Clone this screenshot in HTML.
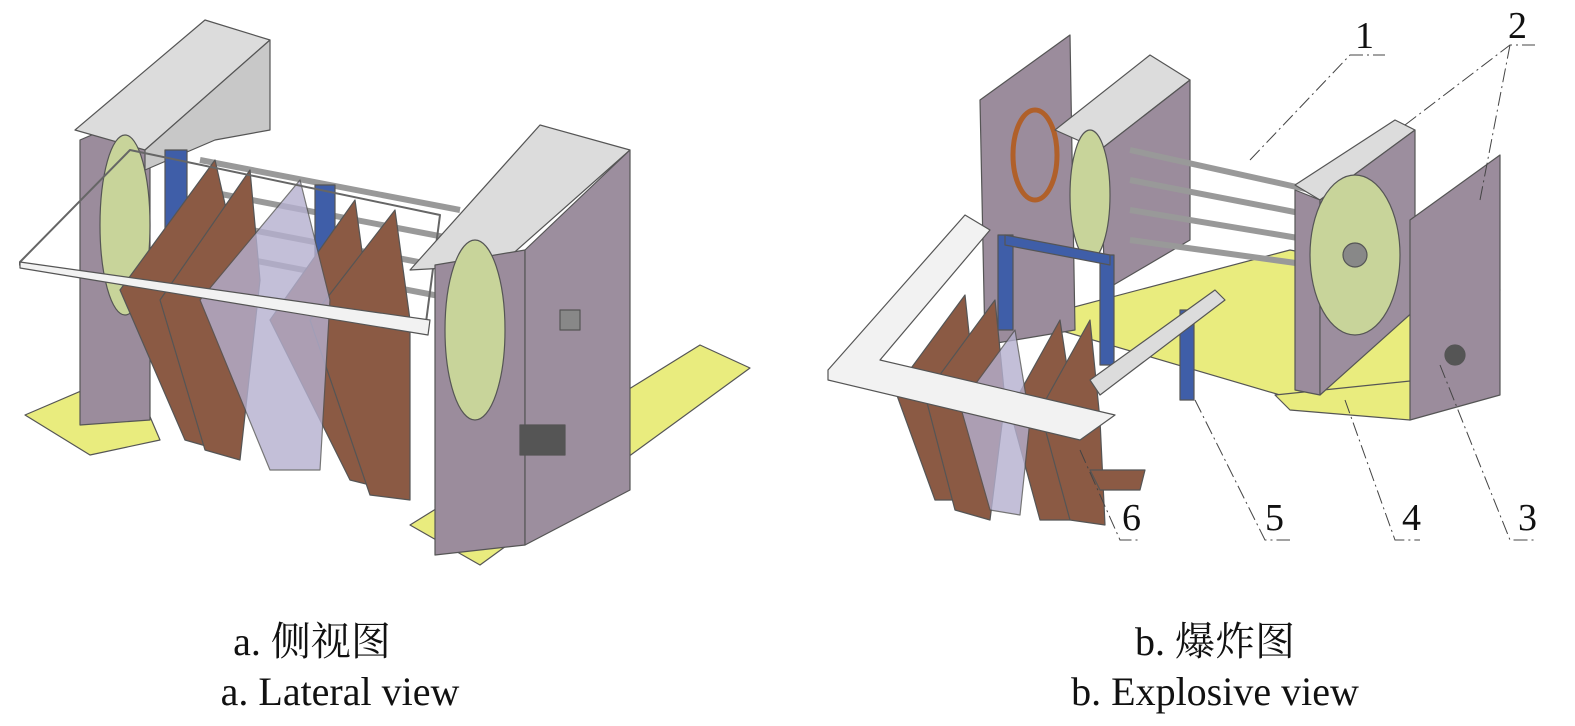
<!DOCTYPE html>
<html><head><meta charset="utf-8"><style>
html,body{margin:0;padding:0;background:#fff;}
body{width:1575px;height:726px;overflow:hidden;position:relative;}
svg{position:absolute;left:0;top:0;}
.cap{position:absolute;font-family:"Liberation Serif","Noto Serif CJK SC",serif;font-size:40px;color:#111;white-space:nowrap;transform:translateX(-50%);}
</style></head><body>
<svg width="1575" height="726" viewBox="0 0 1575 726">
<g stroke="#555" stroke-width="1.2" stroke-linejoin="round">
<!-- LEFT VIEW -->
<polygon points="25,415 130,370 160,440 90,455" fill="#e9ec7e"/>
<polygon points="410,525 700,345 750,368 480,565" fill="#e9ec7e"/>
<polygon points="80,140 150,110 150,420 80,425" fill="#9b8c9c"/>
<polygon points="75,130 205,20 270,40 145,150" fill="#dcdcdc"/>
<polygon points="145,150 270,40 270,130 215,140 145,170" fill="#c8c8c8"/>
<ellipse cx="125" cy="225" rx="25" ry="90" fill="#c8d49a"/>
<!-- rods -->
<g stroke="#999" stroke-width="6">
<line x1="200" y1="160" x2="460" y2="210"/><line x1="200" y1="190" x2="460" y2="240"/>
<line x1="200" y1="220" x2="460" y2="270"/><line x1="200" y1="250" x2="460" y2="300"/>
</g>
<g fill="#3f5ea8"><rect x="165" y="150" width="22" height="110"/><rect x="315" y="185" width="20" height="90"/></g>
<!-- brown sheets -->
<g fill="#8b5a44">
<polygon points="120,290 215,160 240,270 220,450 185,440"/>
<polygon points="160,300 250,170 260,280 240,460 205,450"/>
<polygon points="270,320 355,200 370,310 390,490 350,480"/>
<polygon points="310,320 395,210 410,320 410,500 370,495"/>
</g>
<polygon points="200,300 300,180 330,300 320,470 270,470" fill="#b5b0cf" opacity="0.8"/>
<!-- white frame -->
<polygon points="20,262 130,150 440,215 425,330 20,265" fill="none" stroke="#666" stroke-width="2"/>
<polygon points="20,262 430,320 428,335 20,268" fill="#f2f2f2"/>
<!-- right plate -->
<polygon points="410,270 540,125 630,150 500,265" fill="#dcdcdc"/>
<polygon points="435,265 525,250 525,545 435,555" fill="#9b8c9c"/>
<polygon points="525,250 630,150 630,490 525,545" fill="#9c8e9e"/>
<ellipse cx="475" cy="330" rx="30" ry="90" fill="#c8d49a"/>
<rect x="520" y="425" width="45" height="30" fill="#555"/>
<rect x="560" y="310" width="20" height="20" fill="#888"/>
<!-- RIGHT VIEW -->
<polygon points="1025,320 1290,250 1500,290 1410,410 1280,395" fill="#e9ec7e"/>
<polygon points="1275,395 1420,380 1410,420 1290,410" fill="#e9ec7e"/>
<polygon points="980,100 1070,35 1075,330 985,345" fill="#9b8c9c"/>
<ellipse cx="1035" cy="155" rx="22" ry="45" fill="none" stroke="#b0602a" stroke-width="5"/>
<polygon points="1055,130 1150,55 1190,80 1100,150" fill="#dcdcdc"/>
<polygon points="1100,150 1190,80 1190,240 1105,290" fill="#9b8c9c"/>
<ellipse cx="1090" cy="195" rx="20" ry="65" fill="#c8d49a"/>
<g stroke="#999" stroke-width="6">
<line x1="1130" y1="150" x2="1310" y2="190"/><line x1="1130" y1="180" x2="1310" y2="215"/>
<line x1="1130" y1="210" x2="1310" y2="240"/><line x1="1130" y1="240" x2="1310" y2="265"/>
</g>
<polygon points="1295,185 1395,120 1415,130 1320,200" fill="#dcdcdc"/>
<polygon points="1295,190 1320,200 1320,395 1295,390" fill="#9b8c9c"/>
<polygon points="1320,200 1415,130 1415,310 1320,395" fill="#9c8e9e"/>
<ellipse cx="1355" cy="255" rx="45" ry="80" fill="#c8d49a"/>
<circle cx="1355" cy="255" r="12" fill="#888"/>
<polygon points="1410,220 1500,155 1500,395 1410,420" fill="#9b8c9c"/>
<circle cx="1455" cy="355" r="10" fill="#555"/>
<!-- blue frame -->
<g fill="#3f5ea8"><rect x="998" y="235" width="15" height="95"/><rect x="1100" y="255" width="14" height="110"/><rect x="1180" y="310" width="14" height="90"/>
<polygon points="1005,235 1110,255 1110,265 1005,245"/></g>
<!-- sheets -->
<g fill="#8b5a44">
<polygon points="895,390 965,295 975,390 975,500 935,500"/>
<polygon points="925,395 995,300 1005,400 990,520 955,510"/>
<polygon points="1010,410 1060,320 1075,420 1070,520 1040,520"/>
<polygon points="1040,410 1090,320 1100,420 1105,525 1070,520"/>
<polygon points="1090,470 1145,470 1140,490 1100,490"/>
</g>
<polygon points="960,405 1015,330 1030,420 1020,515 990,510" fill="#b5b0cf" opacity="0.8"/>
<polygon points="828,370 965,215 990,230 880,360 1115,415 1080,440 828,380" fill="#f2f2f2"/>
<polygon points="1090,380 1215,290 1225,300 1100,395" fill="#dcdcdc"/>
</g>
<!-- leader lines -->
<g stroke="#444" stroke-width="1" stroke-dasharray="14,4,2,4" fill="none">
<polyline points="1250,160 1350,55 1385,55"/>
<polyline points="1405,125 1510,45 1535,45"/>
<line x1="1480" y1="200" x2="1510" y2="45"/>
<polyline points="1440,365 1510,540 1535,540"/>
<polyline points="1345,400 1395,540 1420,540"/>
<polyline points="1195,400 1265,540 1290,540"/>
<polyline points="1080,450 1120,540 1140,540"/>
</g>
<g font-family="Liberation Serif, serif" font-size="38" fill="#111">
<text x="1355" y="48">1</text><text x="1508" y="38">2</text>
<text x="1518" y="530">3</text><text x="1402" y="530">4</text>
<text x="1265" y="530">5</text><text x="1122" y="530">6</text>
</g>
</svg>
<div class="cap" style="left:312px;top:610px;">a. 侧视图</div>
<div class="cap" style="left:340px;top:668px;">a. Lateral view</div>
<div class="cap" style="left:1215px;top:610px;">b. 爆炸图</div>
<div class="cap" style="left:1215px;top:668px;">b. Explosive view</div>
</body></html>
